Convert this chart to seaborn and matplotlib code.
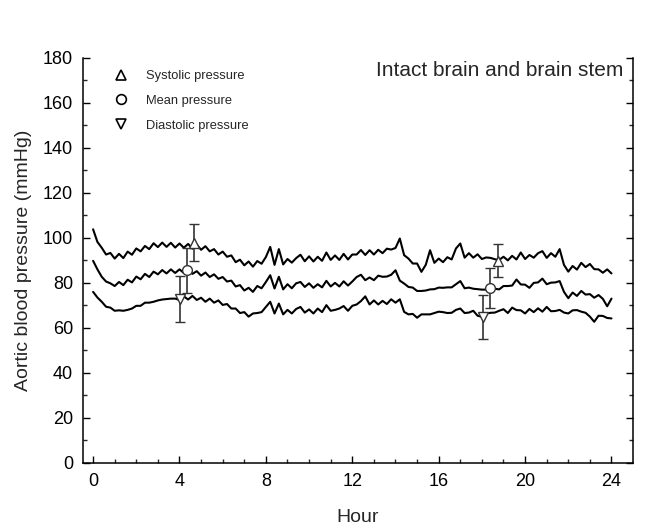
import numpy as np
import pandas as pd
import matplotlib
matplotlib.use("Agg")
import matplotlib.pyplot as plt
from matplotlib.lines import Line2D
import seaborn as sns

# ---------------- data ----------------
hours = np.round(np.arange(0, 24.01, 0.2), 1)

systolic = [103.8, 98.2, 95.6, 92.6, 93.3, 90.8, 92.9, 91.0, 93.9, 92.5,
            95.3, 94.0, 96.4, 95.0, 97.6, 95.9, 97.9, 96.0, 97.8, 95.7,
            97.5, 95.6, 97.3, 95.2, 97.0, 94.7, 96.3, 94.0, 95.0, 92.6,
            93.9, 91.6, 92.2, 89.2, 90.3, 87.8, 89.5, 87.2, 89.7, 88.5,
            91.5, 96.0, 88.0, 95.0, 88.2, 90.6, 89.0, 91.0, 92.5, 89.6,
            91.8, 89.5, 91.6, 89.8, 93.5, 90.2, 92.2, 90.2, 92.9, 90.4,
            92.6, 92.6, 94.6, 92.4, 94.5, 92.6, 94.7, 93.2, 95.2, 94.8,
            95.5, 99.7, 92.3, 90.8, 88.6, 88.6, 84.9, 88.0, 94.5, 88.9,
            90.8, 89.2, 91.4, 90.4, 95.3, 97.5, 91.2, 93.2, 91.2, 92.7,
            90.6, 91.3, 91.1, 90.5, 90.2, 91.6, 90.0, 92.0, 90.4, 93.5,
            90.6, 92.4, 91.2, 93.2, 94.1, 91.1, 93.2, 91.6, 95.0, 88.0,
            85.0, 87.5, 85.9, 88.9, 87.0, 88.4, 86.1, 86.0, 84.5, 86.0,
            84.2]

mean = [89.8, 86.0, 82.7, 80.6, 79.8, 78.6, 80.4, 79.0, 81.4, 80.2,
        82.8, 81.6, 84.0, 82.6, 85.0, 83.8, 85.7, 84.2, 86.0, 84.4,
        86.0, 84.4, 85.8, 84.0, 85.2, 83.2, 84.6, 82.6, 83.8, 81.8,
        82.6, 80.6, 81.0, 78.4, 79.0, 76.6, 77.8, 76.0, 78.6, 77.6,
        80.4, 83.4, 77.5, 82.7, 77.1, 79.4, 77.6, 79.8, 80.4, 78.2,
        79.8, 77.8, 79.4, 78.0, 80.9, 78.4, 80.0, 78.4, 80.7, 78.8,
        80.6, 82.6, 83.6, 81.2, 82.4, 81.2, 83.2, 82.7, 82.8, 83.6,
        85.6, 81.0, 79.7, 78.2, 77.9, 76.4, 76.4, 76.6, 77.1, 77.2,
        77.9, 77.8, 78.0, 78.0, 79.4, 80.8, 77.6, 77.9, 77.4, 77.2,
        77.0, 77.0, 77.1, 77.4, 77.1, 78.6, 78.6, 78.8, 81.5, 79.3,
        79.2, 77.8, 80.0, 80.2, 81.9, 79.4, 80.1, 80.2, 80.8, 76.0,
        73.2, 75.7, 74.2, 76.4, 74.8, 75.0, 73.4, 74.6, 72.9, 69.6,
        73.0]

diastolic = [76.0, 73.5, 71.6, 69.4, 69.0, 67.6, 67.8, 67.6, 68.0, 68.6,
             69.8, 69.8, 71.2, 71.2, 71.6, 72.2, 72.6, 72.8, 73.0, 73.0,
             72.4, 74.0, 72.6, 74.2, 72.4, 73.4, 71.6, 73.0, 71.2, 72.2,
             70.2, 70.6, 68.6, 68.6, 66.6, 67.0, 65.0, 66.4, 66.6, 67.0,
             69.3, 71.6, 66.4, 70.8, 66.0, 68.0, 66.4, 68.4, 69.3, 66.8,
             68.2, 66.4, 68.6, 67.0, 70.1, 67.6, 68.0, 68.6, 69.7, 67.6,
             69.8, 70.4, 71.9, 74.0, 70.4, 72.2, 70.4, 72.0, 70.6, 72.7,
             71.2, 72.7, 67.1, 66.0, 66.2, 64.5, 66.0, 66.0, 66.0, 66.6,
             67.2, 67.0, 66.6, 66.7, 68.0, 68.6, 66.6, 66.8, 67.6, 65.4,
             64.9, 66.4, 66.7, 66.8, 67.6, 68.3, 66.6, 69.0, 67.9, 67.8,
             66.4, 68.4, 67.0, 68.7, 67.2, 69.3, 67.4, 67.5, 68.0, 66.8,
             66.4, 67.8, 67.9, 67.2, 66.7, 65.0, 62.7, 65.4, 65.3, 64.4,
             64.2]

# error-bar points: (hour, value, sd)
sys_err_hour = [4.68, 18.74]
sys_err_val = [97.8, 89.8]
sys_err_sd = [8.2, 7.4]

mean_err_hour = [4.34, 18.38]
mean_err_val = [85.5, 77.6]
mean_err_sd = [10.0, 8.9]

dia_err_hour = [4.03, 18.07]
dia_err_val = [73.0, 65.0]
dia_err_sd = [10.2, 9.8]

legend_labels = ["Systolic pressure", "Mean pressure", "Diastolic pressure"]
title_text = "Intact brain and brain stem"

# ---------------- style ----------------
sns.set_theme(style="ticks")
plt.rcParams["font.family"] = ["Liberation Sans", "DejaVu Sans"]

fig = plt.figure(figsize=(6.48, 5.26), dpi=100)
ax = fig.add_axes([0.128, 0.12, 0.849, 0.77])

df = pd.DataFrame({"hour": np.concatenate([hours, hours, hours]),
                   "value": np.concatenate([systolic, mean, diastolic]),
                   "series": ["S"] * len(hours) + ["M"] * len(hours) + ["D"] * len(hours)})
sns.lineplot(data=df, x="hour", y="value", units="series", estimator=None,
             color="black", linewidth=1.5, ax=ax, legend=False)

for hx, vy, sd, mk in [(sys_err_hour, sys_err_val, sys_err_sd, "^"),
                       (mean_err_hour, mean_err_val, mean_err_sd, "o"),
                       (dia_err_hour, dia_err_val, dia_err_sd, "v")]:
    ax.errorbar(hx, vy, yerr=sd, fmt=mk, color="#333333", ecolor="#333333",
                elinewidth=1.2, capsize=3.5, capthick=1.2,
                markersize=7, markerfacecolor="white", markeredgecolor="#333333",
                markeredgewidth=1.0, zorder=5)

ax.set_xlim(-0.47, 25.0)
ax.set_ylim(0, 180)
ax.set_xticks(np.arange(0, 25, 4))
ax.set_xticks(np.arange(0, 25, 1), minor=True)
ax.set_yticks(np.arange(0, 181, 20))
ax.set_yticks(np.arange(0, 181, 10), minor=True)

for side in ["left", "right", "bottom"]:
    ax.spines[side].set_linewidth(1.1)
    ax.spines[side].set_color("black")
ax.spines["top"].set_visible(False)

ax.tick_params(axis="both", which="major", direction="in", length=5, width=1.0,
               labelsize=13, colors="black", pad=7)
ax.tick_params(axis="both", which="minor", direction="in", length=3, width=1.0)
ax.tick_params(axis="y", which="both", right=True, left=True)
ax.tick_params(axis="x", which="both", top=False)

ax.set_xlabel("Hour", fontsize=14, labelpad=14)
ax.set_ylabel("Aortic blood pressure (mmHg)", fontsize=14, labelpad=8)

ax.text(0.982, 0.968, title_text, transform=ax.transAxes, ha="right",
        va="center", fontsize=15)

handles = [Line2D([], [], linestyle="none", marker=m, markersize=7,
                  markerfacecolor="white", markeredgecolor="black",
                  markeredgewidth=1.2) for m in ["^", "o", "v"]]
ax.legend(handles, legend_labels, loc="upper left", bbox_to_anchor=(0.041, 0.992),
          frameon=False, fontsize=9.3, handlelength=1.0, handletextpad=1.4,
          labelspacing=0.98, borderpad=0.2)

fig.savefig("out.png", dpi=100, facecolor="white")
